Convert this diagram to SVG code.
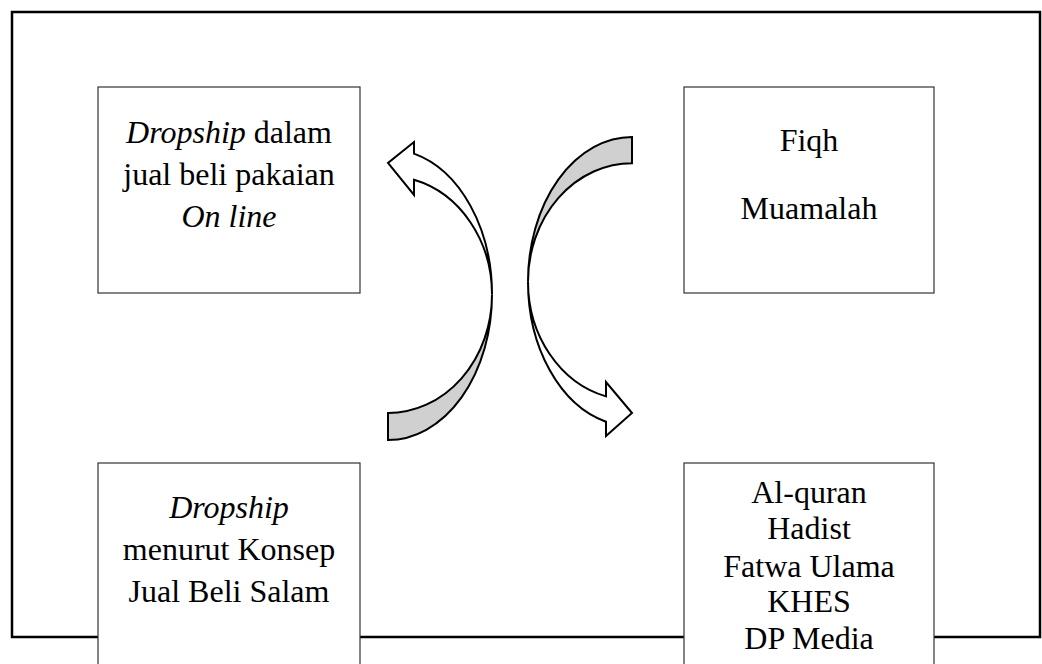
<svg xmlns="http://www.w3.org/2000/svg" width="1042" height="664" viewBox="0 0 1042 664">
<style>
.box{fill:#fff;stroke:#333;stroke-width:1.2}
.t{font-family:"Liberation Serif","Times New Roman",serif;font-size:32px;fill:#000;text-anchor:middle}
.i{font-style:italic}
.back{fill:#d0d0d0;stroke:#000;stroke-width:2;stroke-linejoin:miter}
.front{fill:#fff;stroke:#000;stroke-width:2;stroke-linejoin:miter}
</style>
<rect x="0" y="0" width="1042" height="664" fill="#fff"/>
<rect id="frame" x="12" y="12" width="1028" height="625" fill="none" stroke="#000" stroke-width="2.5"/>
<g id="connectors">
  <g id="arrow-left">
    <path class="back" d="M388,440 A104,145.5 0 0 0 492,294.5 A104,118.5 0 0 1 388,413 Z"/>
    <path class="front" d="M492,294.5 A104,145.5 0 0 0 414,153.6 L414,142 L388,163 L414,195 L414,179.8 A104,118.5 0 0 1 492,294.5 Z"/>
  </g>
  <g id="arrow-right">
    <path class="back" d="M632,137 A104,144.6 0 0 0 528,281.7 A104,118.5 0 0 1 632,163.2 Z"/>
    <path class="front" d="M528,281.7 A104,144.6 0 0 0 606,421.7 L606,436 L632,413 L606,382 L606,396.4 A104,118.5 0 0 1 528,281.7 Z"/>
  </g>
</g>
<g id="node-dropship-online">
  <rect class="box" x="98" y="87" width="262" height="206"/>
  <text class="t" x="229" y="142.5"><tspan class="i">Dropship</tspan> dalam</text>
  <text class="t" x="229" y="184.5">jual beli pakaian</text>
  <text class="t i" x="229" y="226.5">On line</text>
</g>
<g id="node-fiqh">
  <rect class="box" x="684" y="87" width="250" height="206"/>
  <text class="t" x="809" y="151">Fiqh</text>
  <text class="t" x="809" y="219">Muamalah</text>
</g>
<g id="node-salam">
  <rect class="box" x="98" y="463" width="262" height="210"/>
  <text class="t i" x="229" y="517.5">Dropship</text>
  <text class="t" x="229" y="559.5">menurut Konsep</text>
  <text class="t" x="229" y="602">Jual Beli Salam</text>
</g>
<g id="node-sources">
  <rect class="box" x="684" y="463" width="250" height="210"/>
  <text class="t" x="809" y="503">Al-quran</text>
  <text class="t" x="809" y="539">Hadist</text>
  <text class="t" x="809" y="576.5">Fatwa Ulama</text>
  <text class="t" x="809" y="612">KHES</text>
  <text class="t" x="809" y="649">DP Media</text>
</g>
</svg>
